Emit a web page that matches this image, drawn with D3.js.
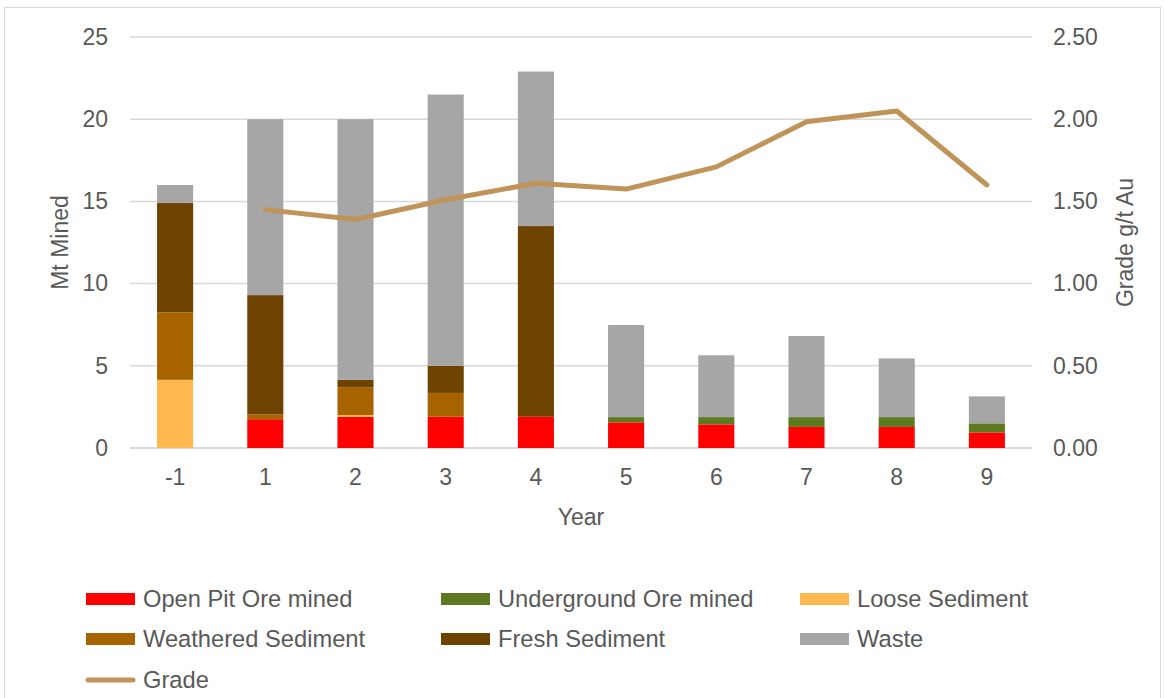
<!DOCTYPE html>
<html><head><meta charset="utf-8">
<script src="https://cdn.jsdelivr.net/npm/d3@7"></script>
<style>body{margin:0;background:#fff;}svg{display:block;font-family:"Liberation Sans",Arial,sans-serif;}</style>
</head><body>
<svg id="chart" width="1165" height="698"></svg>
<script>
const years = ["-1","1","2","3","4","5","6","7","8","9"];
const openPit     = [0, 1.75, 1.9, 1.9, 1.9, 1.56, 1.44, 1.28, 1.28, 0.95];
const underground = [0, 0, 0, 0, 0, 0.32, 0.44, 0.6, 0.6, 0.55];
const loose       = [4.15, 0, 0.1, 0, 0, 0, 0, 0, 0, 0];
const weathered   = [4.1, 0.3, 1.7, 1.45, 0, 0, 0, 0, 0, 0];
const fresh       = [6.65, 7.25, 0.45, 1.65, 11.6, 0, 0, 0, 0, 0];
const waste       = [1.1, 10.7, 15.85, 16.5, 9.4, 5.6, 3.76, 4.93, 3.57, 1.64];
const grade       = [null, 1.45, 1.39, 1.51, 1.61, 1.575, 1.71, 1.985, 2.05, 1.6];
const leftTicks  = [0, 5, 10, 15, 20, 25];
const rightTicks = [0, 0.5, 1, 1.5, 2, 2.5];

const seriesNames  = ["Open Pit Ore mined","Underground Ore mined","Loose Sediment","Weathered Sediment","Fresh Sediment","Waste"];
const seriesData   = [openPit, underground, loose, weathered, fresh, waste];
const seriesColors = ["#FF0000","#5E7A21","#FFB74F","#A66300","#6E4300","#A6A6A6"];
const gradeColor = "#C09458";
const textColor = "#595959";
const fs = 23;
const lfs = 23.7;

const svg = d3.select("#chart");
svg.append("rect").attr("x",4.5).attr("y",7.5).attr("width",1156).attr("height",700)
  .attr("fill","none").attr("stroke","#D9D9D9").attr("stroke-width",1);

const x = d3.scaleBand().domain(years).range([130,1032]).paddingInner(0.6).paddingOuter(0.3);
const y = d3.scaleLinear().domain([0,25]).range([448,37]);
const y2 = d3.scaleLinear().domain([0,2.5]).range([448,37]);

svg.append("g").selectAll("line").data(leftTicks).join("line")
  .attr("x1",130).attr("x2",1032).attr("y1",d=>y(d)).attr("y2",d=>y(d))
  .attr("stroke","#D9D9D9").attr("stroke-width",d=>d===0?2:1.5);

const ff = "Liberation Sans, Arial, sans-serif";
const yAxis = d3.axisLeft(y).tickValues(leftTicks).tickSize(0).tickPadding(0).tickFormat(d3.format("d"));
const gy = svg.append("g").attr("transform","translate(108,0)").call(yAxis);
gy.select(".domain").remove();
gy.selectAll("text").attr("fill",textColor).attr("font-size",fs).attr("font-family",ff);

const y2Axis = d3.axisRight(y2).tickValues(rightTicks).tickSize(0).tickPadding(0).tickFormat(d3.format(".2f"));
const gy2 = svg.append("g").attr("transform","translate(1053,0)").call(y2Axis);
gy2.select(".domain").remove();
gy2.selectAll("text").attr("fill",textColor).attr("font-size",fs).attr("font-family",ff);

const xAxis = d3.axisBottom(x).tickSize(0).tickPadding(0);
const gx = svg.append("g").attr("transform","translate(0,469)").call(xAxis);
gx.select(".domain").remove();
gx.selectAll("text").attr("fill",textColor).attr("font-size",fs).attr("font-family",ff);

const table = years.map((yr,i)=>{const o={year:yr}; seriesNames.forEach((n,k)=>o[n]=seriesData[k][i]); return o;});
const stack = d3.stack().keys(seriesNames)(table);
svg.append("g").selectAll("g").data(stack).join("g")
  .attr("fill",(d,i)=>seriesColors[i])
  .selectAll("rect").data(d=>d.filter(s=>s[1]-s[0]>0)).join("rect")
  .attr("x",d=>x(d.data.year)).attr("width",x.bandwidth())
  .attr("y",d=>y(d[1])).attr("height",d=>y(d[0])-y(d[1]));

const line = d3.line().defined(d=>d.g!=null).x(d=>x(d.yr)+x.bandwidth()/2).y(d=>y2(d.g));
svg.append("path").datum(years.map((yr,i)=>({yr,g:grade[i]})))
  .attr("d",line).attr("fill","none").attr("stroke",gradeColor).attr("stroke-width",5)
  .attr("stroke-linejoin","round").attr("stroke-linecap","round");

svg.append("text").attr("transform","translate(68,242.5) rotate(-90)").attr("text-anchor","middle")
  .attr("fill",textColor).attr("font-size",fs).text("Mt Mined");
svg.append("text").attr("transform","translate(1133,242.5) rotate(-90)").attr("text-anchor","middle")
  .attr("fill",textColor).attr("font-size",fs).text("Grade g/t Au");
svg.append("text").attr("x",581).attr("y",525).attr("text-anchor","middle")
  .attr("fill",textColor).attr("font-size",fs).text("Year");

const legendItems = seriesNames.map((n,i)=>({name:n,color:seriesColors[i],type:"rect"}));
legendItems.push({name:"Grade",color:gradeColor,type:"line"});
const colX = [86,441,800];
const rowY = [599,639,680];
const lg = svg.append("g").selectAll("g").data(legendItems).join("g")
  .attr("transform",(d,i)=>`translate(${colX[i%3]},${rowY[Math.floor(i/3)]})`);
lg.filter(d=>d.type==="rect").append("rect").attr("x",0).attr("y",-6).attr("width",49).attr("height",12).attr("fill",d=>d.color);
lg.filter(d=>d.type==="line").append("line").attr("x1",2).attr("x2",47).attr("y1",0).attr("y2",0)
  .attr("stroke",d=>d.color).attr("stroke-width",5).attr("stroke-linecap","round");
lg.append("text").attr("x",57).attr("y",0).attr("dy","0.35em").attr("fill",textColor).attr("font-size",lfs).text(d=>d.name);
</script>
</body></html>
